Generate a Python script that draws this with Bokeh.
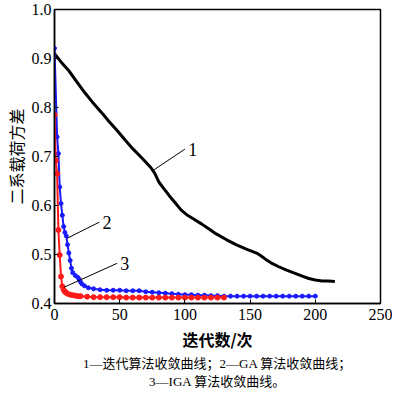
from bokeh.plotting import figure
from bokeh.models import Range1d, FixedTicker, Title, Label, NumeralTickFormatter
from bokeh.embed import file_html
from bokeh.resources import INLINE

# ---- data ----
black_x = [0, 5, 11, 17, 23, 30, 36, 42, 48, 54, 60, 67, 74, 77, 80, 84, 88, 93, 97,
           102, 107, 113, 118, 124, 132, 140, 148, 155, 158, 162, 166, 172, 178, 184,
           190, 195, 200, 205, 210, 215]
black_y = [0.910, 0.893, 0.875, 0.853, 0.831, 0.808, 0.790, 0.771, 0.753, 0.734, 0.716,
           0.697, 0.677, 0.665, 0.648, 0.634, 0.620, 0.604, 0.591, 0.580, 0.572, 0.562,
           0.553, 0.542, 0.530, 0.519, 0.510, 0.503, 0.498, 0.490, 0.483, 0.475, 0.468,
           0.462, 0.456, 0.451, 0.448, 0.446, 0.446, 0.445]

blue_x = [0, 2, 3, 4, 5, 6, 7, 8, 9, 10, 11, 12, 13, 14, 16, 18, 19, 20, 21, 23, 26, 30,
          35, 40, 45, 50, 55, 60, 65, 70, 75, 80, 85, 90, 95, 100, 105, 110, 115, 120, 125,
          130, 135, 140, 145, 150, 155, 160, 165, 170, 175, 180, 185, 190, 195, 200]
blue_y = [0.921, 0.740, 0.706, 0.638, 0.604, 0.580, 0.557, 0.545, 0.538, 0.520, 0.503,
          0.488, 0.472, 0.463, 0.457, 0.453, 0.449, 0.444, 0.440, 0.436, 0.432, 0.430,
          0.428, 0.427, 0.427, 0.427, 0.426, 0.426, 0.426, 0.424, 0.423, 0.422, 0.421,
          0.420, 0.419, 0.418, 0.418, 0.417, 0.417, 0.416, 0.416,
          0.415, 0.415, 0.415, 0.415, 0.415, 0.415, 0.415, 0.415, 0.415, 0.415, 0.415,
          0.415, 0.415, 0.415, 0.415]

red_x = [0, 1, 2, 3, 4, 5, 6, 7, 8, 9, 10, 12, 14, 16, 18, 20, 25, 30, 35, 40, 45, 50,
         55, 60, 65, 70, 75, 80, 85, 90, 95, 100, 105, 110, 115, 120, 125, 130]
red_y = [0.785, 0.692, 0.665, 0.550, 0.499, 0.455, 0.435, 0.428, 0.424, 0.422, 0.420,
         0.418, 0.417, 0.416, 0.415, 0.415, 0.414, 0.413, 0.413, 0.413, 0.413, 0.413,
         0.412, 0.412, 0.412, 0.412, 0.412, 0.412, 0.412, 0.412, 0.412, 0.412, 0.412,
         0.412, 0.412, 0.412, 0.412, 0.412]

x_ticks = [0, 50, 100, 150, 200, 250]
y_ticks = [0.4, 0.5, 0.6, 0.7, 0.8, 0.9, 1.0]

curve_labels = ["1", "2", "3"]
leader_x0 = [76.4, 9.6, 7.2]
leader_y0 = [0.673, 0.533, 0.433]
leader_x1 = [100.0, 34.4, 48.0]
leader_y1 = [0.715, 0.566, 0.482]

x_title = "迭代数/次"
y_title = "二系载荷方差"
caption1 = "1—迭代算法收敛曲线；2—GA 算法收敛曲线；"
caption2 = "3—IGA 算法收敛曲线。"

SERIF = "Liberation Serif"
CJK = "Liberation Serif, Noto Sans CJK SC"

p = figure(width=392, height=389, output_backend="svg", toolbar_location=None,
           x_range=Range1d(0, 250), y_range=Range1d(0.4, 1.0),
           min_border_left=50, min_border_right=12, min_border_top=9, min_border_bottom=84)
p.background_fill_color = "white"
p.border_fill_color = "white"
p.xgrid.visible = False
p.ygrid.visible = False
p.outline_line_color = "black"
p.outline_line_width = 1.5

for ax in (p.xaxis[0], p.yaxis[0]):
    ax.axis_line_color = "black"
    ax.axis_line_width = 1.5
    ax.major_tick_in = 4
    ax.major_tick_out = 0
    ax.major_tick_line_color = "black"
    ax.minor_tick_line_color = None
    ax.major_label_text_font = SERIF
    ax.major_label_text_font_size = "16px"
    ax.major_label_text_color = "black"
    ax.axis_label_text_color = "black"

p.xaxis[0].ticker = FixedTicker(ticks=x_ticks)
p.yaxis[0].ticker = FixedTicker(ticks=y_ticks)
p.yaxis[0].formatter = NumeralTickFormatter(format="0.0")
p.xaxis[0].major_label_standoff = 5
p.yaxis[0].major_label_standoff = 3
p.xaxis[0].axis_label = x_title
p.yaxis[0].axis_label = y_title
p.xaxis[0].axis_label_text_font = "Noto Sans CJK SC"
p.yaxis[0].axis_label_text_font = "Noto Sans CJK SC"
p.xaxis[0].axis_label_text_font_style = "bold"
p.yaxis[0].axis_label_text_font_style = "normal"
p.xaxis[0].axis_label_text_font_size = "16px"
p.yaxis[0].axis_label_text_font_size = "16px"
p.xaxis[0].axis_label_standoff = 4
p.yaxis[0].axis_label_standoff = 1

# curves
p.line(black_x, black_y, line_color="black", line_width=3)
p.line(blue_x, blue_y, line_color="#1a1aff", line_width=2)
p.scatter(blue_x, blue_y, marker="circle", size=4, fill_color="#1a1aff", line_color="#1a1aff")
p.line(red_x, red_y, line_color="#ff1a1a", line_width=2)
p.scatter(red_x, red_y, marker="circle", size=5, fill_color="#ff1a1a", line_color="#ff1a1a")

# leader lines and labels
p.segment(x0=leader_x0, y0=leader_y0, x1=leader_x1, y1=leader_y1,
          line_color="black", line_width=1)
for t, xx, yy in zip(curve_labels, leader_x1, leader_y1):
    p.add_layout(Label(x=xx + 2.5, y=yy, text=t, text_font=SERIF, text_font_size="18px",
                       text_align="left", text_baseline="middle", text_color="black"))

# caption below
for cap in (caption1, caption2):
    p.add_layout(Title(text=cap, align="center", text_font=CJK, text_font_size="13px",
                       text_font_style="normal", text_color="black", standoff=1), "below")

open("out.html", "w").write(file_html(p, INLINE))
